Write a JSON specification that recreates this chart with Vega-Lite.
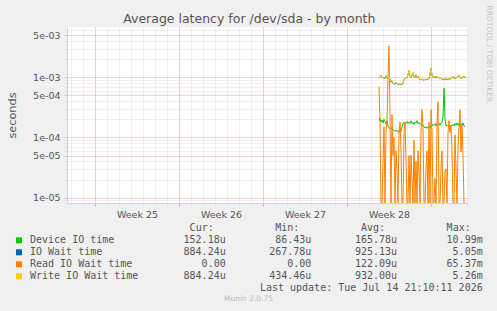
{
  "$schema": "https://vega.github.io/schema/vega-lite/v6.json",
  "width": 401,
  "height": 176,
  "autosize": {"type": "none"},
  "padding": {"left": 67, "top": 27, "right": 29, "bottom": 108},
  "background": "#f0f0f0",
  "title": {"text": "Average latency for /dev/sda - by month", "anchor": "middle", "frame": "bounds", "font": "DejaVu Sans", "fontSize": 12.5, "fontWeight": "normal", "color": "#555555", "baseline": "alphabetic", "offset": -30},
  "config": {
    "view": {"fill": "#ffffff", "stroke": null},
    "font": "DejaVu Sans",
    "axis": {"labelFont": "DejaVu Sans", "titleFont": "DejaVu Sans", "labelColor": "#555555", "titleColor": "#555555", "titleFontWeight": "normal", "labelFontSize": 9.5, "domainColor": "#c8cef5", "labelOverlap": false, "labelFlush": false}
  },
  "resolve": {"scale": {"x": "independent", "y": "independent"}},
  "datasets": {
    "perf": [
      {"time": "2026-07-08T16:00:00Z", "device": 1.9e-4, "iowait": 9.9e-4, "read": 7.0e-4, "write": 1.0e-3},
      {"time": "2026-07-08T18:00:00Z", "device": 2.1e-4, "iowait": 1.04e-3, "read": 2.0e-4, "write": 1.05e-3},
      {"time": "2026-07-08T20:00:00Z", "device": 1.8e-4, "iowait": 1.09e-3, "read": 1e-6, "write": 1.1e-3},
      {"time": "2026-07-08T22:00:00Z", "device": 1.95e-4, "iowait": 9.7e-4, "read": 1e-6, "write": 9.8e-4},
      {"time": "2026-07-09T00:00:00Z", "device": 1.75e-4, "iowait": 1.01e-3, "read": 3.7e-5, "write": 1.02e-3},
      {"time": "2026-07-09T02:00:00Z", "device": 2.0e-4, "iowait": 9.5e-4, "read": 1.5e-4, "write": 9.6e-4},
      {"time": "2026-07-09T04:00:00Z", "device": 1.85e-4, "iowait": 9.6e-4, "read": 1e-6, "write": 1.0e-3},
      {"time": "2026-07-09T06:00:00Z", "device": 1.7e-4, "iowait": 1.07e-3, "read": 1.2e-4, "write": 1.08e-3},
      {"time": "2026-07-09T08:00:00Z", "device": 1.9e-4, "iowait": 9.9e-4, "read": 2.0e-4, "write": 1.0e-3},
      {"time": "2026-07-09T10:00:00Z", "device": 1.55e-4, "iowait": 9.4e-4, "read": 1.0e-3, "write": 9.5e-4},
      {"time": "2026-07-09T12:00:00Z", "device": 1.45e-4, "iowait": 1.01e-3, "read": 3.35e-3, "write": 1.02e-3},
      {"time": "2026-07-09T14:00:00Z", "device": 1.4e-4, "iowait": 9.1e-4, "read": 2.2e-4, "write": 9.2e-4},
      {"time": "2026-07-09T16:00:00Z", "device": 1.45e-4, "iowait": 8.3e-4, "read": 1e-6, "write": 8.6e-4},
      {"time": "2026-07-09T18:00:00Z", "device": 1.4e-4, "iowait": 8.7e-4, "read": 2.4e-4, "write": 8.8e-4},
      {"time": "2026-07-09T20:00:00Z", "device": 1.35e-4, "iowait": 7.9e-4, "read": 5e-5, "write": 8.0e-4},
      {"time": "2026-07-09T22:00:00Z", "device": 1.3e-4, "iowait": 7.6e-4, "read": 1.0e-4, "write": 7.7e-4},
      {"time": "2026-07-10T00:00:00Z", "device": 1.28e-4, "iowait": 7.8e-4, "read": 1e-6, "write": 7.9e-4},
      {"time": "2026-07-10T02:00:00Z", "device": 1.32e-4, "iowait": 8.2e-4, "read": 6e-5, "write": 8.3e-4},
      {"time": "2026-07-10T04:00:00Z", "device": 1.25e-4, "iowait": 7.7e-4, "read": 3e-5, "write": 7.8e-4},
      {"time": "2026-07-10T06:00:00Z", "device": 1.3e-4, "iowait": 7.5e-4, "read": 1e-6, "write": 7.6e-4},
      {"time": "2026-07-10T08:00:00Z", "device": 1.22e-4, "iowait": 7.8e-4, "read": 1.2e-4, "write": 7.9e-4},
      {"time": "2026-07-10T10:00:00Z", "device": 1.3e-4, "iowait": 7.6e-4, "read": 1.8e-4, "write": 7.7e-4},
      {"time": "2026-07-10T12:00:00Z", "device": 1.25e-4, "iowait": 7.7e-4, "read": 6e-5, "write": 7.8e-4},
      {"time": "2026-07-10T14:00:00Z", "device": 1.55e-4, "iowait": 7.5e-4, "read": 1e-6, "write": 7.6e-4},
      {"time": "2026-07-10T16:00:00Z", "device": 1.7e-4, "iowait": 7.9e-4, "read": 1e-6, "write": 8.0e-4},
      {"time": "2026-07-10T18:00:00Z", "device": 1.8e-4, "iowait": 9.1e-4, "read": 1.2e-4, "write": 9.2e-4},
      {"time": "2026-07-10T20:00:00Z", "device": 1.65e-4, "iowait": 9.5e-4, "read": 1.8e-4, "write": 9.6e-4},
      {"time": "2026-07-10T22:00:00Z", "device": 1.75e-4, "iowait": 9.9e-4, "read": 4e-5, "write": 1.0e-3},
      {"time": "2026-07-11T00:00:00Z", "device": 1.85e-4, "iowait": 9.7e-4, "read": 1e-6, "write": 9.8e-4},
      {"time": "2026-07-11T02:00:00Z", "device": 1.7e-4, "iowait": 1.11e-3, "read": 1e-6, "write": 1.12e-3},
      {"time": "2026-07-11T04:00:00Z", "device": 1.8e-4, "iowait": 1.29e-3, "read": 5e-5, "write": 1.3e-3},
      {"time": "2026-07-11T06:00:00Z", "device": 1.72e-4, "iowait": 1.04e-3, "read": 1e-6, "write": 1.05e-3},
      {"time": "2026-07-11T08:00:00Z", "device": 1.9e-4, "iowait": 9.9e-4, "read": 5.1e-5, "write": 1.0e-3},
      {"time": "2026-07-11T10:00:00Z", "device": 1.7e-4, "iowait": 1.07e-3, "read": 2e-5, "write": 1.08e-3},
      {"time": "2026-07-11T12:00:00Z", "device": 1.78e-4, "iowait": 1.19e-3, "read": 1e-6, "write": 1.2e-3},
      {"time": "2026-07-11T14:00:00Z", "device": 1.65e-4, "iowait": 1.01e-3, "read": 9e-5, "write": 1.02e-3},
      {"time": "2026-07-11T16:00:00Z", "device": 1.8e-4, "iowait": 9.8e-4, "read": 1e-6, "write": 9.9e-4},
      {"time": "2026-07-11T18:00:00Z", "device": 1.75e-4, "iowait": 1.11e-3, "read": 4e-5, "write": 1.12e-3},
      {"time": "2026-07-11T20:00:00Z", "device": 1.9e-4, "iowait": 9.9e-4, "read": 1e-6, "write": 1.0e-3},
      {"time": "2026-07-11T22:00:00Z", "device": 1.7e-4, "iowait": 1.04e-3, "read": 6e-5, "write": 1.05e-3},
      {"time": "2026-07-12T00:00:00Z", "device": 1.75e-4, "iowait": 9.5e-4, "read": 2.5e-5, "write": 9.6e-4},
      {"time": "2026-07-12T02:00:00Z", "device": 1.65e-4, "iowait": 9.2e-4, "read": 1e-6, "write": 9.3e-4},
      {"time": "2026-07-12T04:00:00Z", "device": 1.7e-4, "iowait": 9.1e-4, "read": 1.2e-4, "write": 9.2e-4},
      {"time": "2026-07-12T06:00:00Z", "device": 1.58e-4, "iowait": 9.3e-4, "read": 2.9e-4, "write": 9.4e-4},
      {"time": "2026-07-12T08:00:00Z", "device": 1.6e-4, "iowait": 8.9e-4, "read": 1.5e-4, "write": 9.0e-4},
      {"time": "2026-07-12T10:00:00Z", "device": 1.5e-4, "iowait": 9.2e-4, "read": 1e-6, "write": 9.3e-4},
      {"time": "2026-07-12T12:00:00Z", "device": 1.45e-4, "iowait": 9.0e-4, "read": 1e-6, "write": 9.1e-4},
      {"time": "2026-07-12T14:00:00Z", "device": 1.52e-4, "iowait": 9.3e-4, "read": 3e-5, "write": 9.4e-4},
      {"time": "2026-07-12T16:00:00Z", "device": 1.42e-4, "iowait": 9.1e-4, "read": 6e-5, "write": 9.2e-4},
      {"time": "2026-07-12T18:00:00Z", "device": 1.5e-4, "iowait": 9.4e-4, "read": 1e-6, "write": 9.5e-4},
      {"time": "2026-07-12T20:00:00Z", "device": 1.55e-4, "iowait": 9.5e-4, "read": 1.8e-4, "write": 9.6e-4},
      {"time": "2026-07-12T22:00:00Z", "device": 1.45e-4, "iowait": 1.09e-3, "read": 1e-6, "write": 1.1e-3},
      {"time": "2026-07-13T00:00:00Z", "device": 1.6e-4, "iowait": 1.41e-3, "read": 2.9e-4, "write": 1.42e-3},
      {"time": "2026-07-13T02:00:00Z", "device": 1.55e-4, "iowait": 1.09e-3, "read": 1.3e-4, "write": 1.1e-3},
      {"time": "2026-07-13T04:00:00Z", "device": 1.65e-4, "iowait": 9.9e-4, "read": 1e-6, "write": 1.0e-3},
      {"time": "2026-07-13T06:00:00Z", "device": 1.6e-4, "iowait": 1.02e-3, "read": 1e-6, "write": 1.03e-3},
      {"time": "2026-07-13T08:00:00Z", "device": 1.7e-4, "iowait": 9.7e-4, "read": 2.1e-5, "write": 9.8e-4},
      {"time": "2026-07-13T10:00:00Z", "device": 1.55e-4, "iowait": 1.04e-3, "read": 1e-6, "write": 1.05e-3},
      {"time": "2026-07-13T12:00:00Z", "device": 1.65e-4, "iowait": 9.8e-4, "read": 1.6e-4, "write": 9.9e-4},
      {"time": "2026-07-13T14:00:00Z", "device": 1.6e-4, "iowait": 1.01e-3, "read": 3.9e-4, "write": 1.02e-3},
      {"time": "2026-07-13T16:00:00Z", "device": 1.7e-4, "iowait": 9.6e-4, "read": 1e-6, "write": 9.7e-4},
      {"time": "2026-07-13T18:00:00Z", "device": 1.6e-4, "iowait": 9.9e-4, "read": 1e-6, "write": 1.0e-3},
      {"time": "2026-07-13T20:00:00Z", "device": 1.75e-4, "iowait": 9.5e-4, "read": 3.1e-5, "write": 9.6e-4},
      {"time": "2026-07-13T22:00:00Z", "device": 1.8e-4, "iowait": 9.3e-4, "read": 6e-5, "write": 9.4e-4},
      {"time": "2026-07-14T00:00:00Z", "device": 2.2e-4, "iowait": 9.1e-4, "read": 1e-6, "write": 9.2e-4},
      {"time": "2026-07-14T02:00:00Z", "device": 6.6e-4, "iowait": 9.3e-4, "read": 1e-6, "write": 9.4e-4},
      {"time": "2026-07-14T04:00:00Z", "device": 2.0e-4, "iowait": 9.2e-4, "read": 2.7e-5, "write": 9.3e-4},
      {"time": "2026-07-14T06:00:00Z", "device": 1.55e-4, "iowait": 9.4e-4, "read": 3e-5, "write": 9.5e-4},
      {"time": "2026-07-14T08:00:00Z", "device": 1.6e-4, "iowait": 9.1e-4, "read": 1e-6, "write": 9.2e-4},
      {"time": "2026-07-14T10:00:00Z", "device": 1.52e-4, "iowait": 9.5e-4, "read": 1.2e-4, "write": 9.6e-4},
      {"time": "2026-07-14T12:00:00Z", "device": 1.55e-4, "iowait": 9.3e-4, "read": 1.9e-4, "write": 9.4e-4},
      {"time": "2026-07-14T14:00:00Z", "device": 1.5e-4, "iowait": 9.2e-4, "read": 1.2e-4, "write": 9.3e-4},
      {"time": "2026-07-14T16:00:00Z", "device": 1.6e-4, "iowait": 9.6e-4, "read": 1.6e-4, "write": 9.7e-4},
      {"time": "2026-07-14T18:00:00Z", "device": 1.55e-4, "iowait": 1.01e-3, "read": 6e-5, "write": 1.02e-3},
      {"time": "2026-07-14T20:00:00Z", "device": 1.65e-4, "iowait": 1.04e-3, "read": 1e-6, "write": 1.05e-3},
      {"time": "2026-07-14T22:00:00Z", "device": 1.55e-4, "iowait": 9.7e-4, "read": 1e-6, "write": 9.8e-4},
      {"time": "2026-07-15T00:00:00Z", "device": 1.7e-4, "iowait": 9.5e-4, "read": 1.1e-4, "write": 9.6e-4},
      {"time": "2026-07-15T02:00:00Z", "device": 1.6e-4, "iowait": 9.8e-4, "read": 3e-5, "write": 9.9e-4},
      {"time": "2026-07-15T04:00:00Z", "device": 1.75e-4, "iowait": 9.9e-4, "read": 1e-6, "write": 1.0e-3},
      {"time": "2026-07-15T06:00:00Z", "device": 1.6e-4, "iowait": 1.03e-3, "read": 6.6e-5, "write": 1.04e-3},
      {"time": "2026-07-15T08:00:00Z", "device": 1.7e-4, "iowait": 1.09e-3, "read": 1.5e-4, "write": 1.1e-3},
      {"time": "2026-07-15T10:00:00Z", "device": 1.55e-4, "iowait": 9.9e-4, "read": 2.9e-4, "write": 1.0e-3},
      {"time": "2026-07-15T12:00:00Z", "device": 1.7e-4, "iowait": 9.6e-4, "read": 5.8e-5, "write": 9.7e-4},
      {"time": "2026-07-15T14:00:00Z", "device": 1.6e-4, "iowait": 9.8e-4, "read": 1.6e-4, "write": 9.9e-4},
      {"time": "2026-07-15T16:00:00Z", "device": 1.75e-4, "iowait": 1.01e-3, "read": 5e-5, "write": 1.02e-3},
      {"time": "2026-07-15T18:00:00Z", "device": 1.55e-4, "iowait": 1.05e-3, "read": 1e-6, "write": 1.06e-3},
      {"time": "2026-07-15T20:00:00Z", "device": 1.52e-4, "iowait": 9.7e-4, "read": 1e-6, "write": 9.8e-4}
    ],
    "stats": [
      {"row": "Device IO time", "col": "Cur", "text": "152.18u"},
      {"row": "Device IO time", "col": "Min", "text": "86.43u"},
      {"row": "Device IO time", "col": "Avg", "text": "165.78u"},
      {"row": "Device IO time", "col": "Max", "text": "10.99m"},
      {"row": "IO Wait time", "col": "Cur", "text": "884.24u"},
      {"row": "IO Wait time", "col": "Min", "text": "267.78u"},
      {"row": "IO Wait time", "col": "Avg", "text": "925.13u"},
      {"row": "IO Wait time", "col": "Max", "text": "5.05m"},
      {"row": "Read IO Wait time", "col": "Cur", "text": "0.00\u00a0"},
      {"row": "Read IO Wait time", "col": "Min", "text": "0.00\u00a0"},
      {"row": "Read IO Wait time", "col": "Avg", "text": "122.09u"},
      {"row": "Read IO Wait time", "col": "Max", "text": "65.37m"},
      {"row": "Write IO Wait time", "col": "Cur", "text": "884.24u"},
      {"row": "Write IO Wait time", "col": "Min", "text": "434.46u"},
      {"row": "Write IO Wait time", "col": "Avg", "text": "932.00u"},
      {"row": "Write IO Wait time", "col": "Max", "text": "5.26m"},
      {"row": "update", "col": "Max", "text": "Last update: Tue Jul 14 21:10:11 2026"}
    ],
    "headers": [
      {"row": "header", "col": "Cur", "text": "Cur:"},
      {"row": "header", "col": "Min", "text": "Min:"},
      {"row": "header", "col": "Avg", "text": "Avg:"},
      {"row": "header", "col": "Max", "text": "Max:"}
    ]
  },
  "layer": [
    {
      "data": {"name": "perf"},
      "mark": {"type": "line", "strokeWidth": 1, "clip": true},
      "encoding": {
        "x": {"field": "time", "type": "temporal",
          "scale": {"type": "utc", "nice": false, "domain": [{"year": 2026, "month": 6, "date": 12, "hours": 16, "utc": true}, {"year": 2026, "month": 7, "date": 16, "hours": 2, "utc": true}]},
          "axis": {"orient": "bottom", "tickCount": {"interval": "day", "step": 1}, "grid": true, "gridColor": "#dedede", "gridDash": [1, 1], "ticks": true, "tickSize": 2, "tickColor": "#dedede", "labels": false, "domain": false, "title": null}},
        "y": {"field": "device", "type": "quantitative",
          "scale": {"type": "log", "domain": [8.17e-6, 6.84e-3], "nice": false, "zero": false, "clamp": true},
          "axis": {"orient": "left", "values": [9e-6, 2e-5, 3e-5, 4e-5, 6e-5, 7e-5, 8e-5, 9e-5, 2e-4, 3e-4, 4e-4, 6e-4, 7e-4, 8e-4, 9e-4, 2e-3, 3e-3, 4e-3, 6e-3], "grid": true, "gridColor": "#dedede", "gridDash": [1, 1], "ticks": true, "tickSize": 3, "tickColor": "#dedede", "tickDash": [1, 1], "labels": false, "domain": false, "title": null}},
        "color": {"datum": "Device IO time", "type": "nominal",
          "scale": {"domain": ["Device IO time", "IO Wait time", "Read IO Wait time", "Write IO Wait time"], "range": ["#00cc00", "#0066b3", "#ff8000", "#ffcc00"]},
          "legend": {"orient": "none", "legendX": -53, "legendY": 208.3, "direction": "vertical", "title": null, "symbolType": "square", "symbolSize": 36, "symbolStrokeWidth": 0, "labelFont": "DejaVu Sans Mono", "labelFontSize": 10, "labelColor": "#555555", "labelOffset": 6, "rowPadding": 2, "padding": 0,
            "encode": {"symbols": {"update": {"fill": {"scale": "color", "field": "value"}, "stroke": {"value": "transparent"}, "strokeWidth": {"value": 0}, "opacity": {"value": 1}}}}}}
      }
    },
    {
      "data": {"name": "perf"},
      "mark": {"type": "line", "strokeWidth": 1, "clip": true},
      "encoding": {
        "x": {"field": "time", "type": "temporal",
          "scale": {"type": "utc", "nice": false, "domain": [{"year": 2026, "month": 6, "date": 12, "hours": 16, "utc": true}, {"year": 2026, "month": 7, "date": 16, "hours": 2, "utc": true}]},
          "axis": {"orient": "bottom", "values": [{"year": 2026, "month": 6, "date": 15, "utc": true}, {"year": 2026, "month": 6, "date": 22, "utc": true}, {"year": 2026, "month": 6, "date": 29, "utc": true}, {"year": 2026, "month": 7, "date": 6, "utc": true}, {"year": 2026, "month": 7, "date": 13, "utc": true}], "grid": true, "gridColor": "#e6a8a8", "gridDash": [1, 1], "ticks": true, "tickSize": 3, "tickColor": "#e6a8a8", "labels": false, "domain": true, "domainColor": "#c8cef5", "title": null}},
        "y": {"field": "iowait", "type": "quantitative",
          "scale": {"type": "log", "domain": [8.17e-6, 6.84e-3], "nice": false, "zero": false, "clamp": true},
          "axis": {"orient": "left", "values": [1e-5, 5e-5, 1e-4, 5e-4, 1e-3, 5e-3], "labelExpr": "replace(format(datum.value, '.0e'), 'e-', 'e-0')", "grid": true, "gridColor": "#e6a8a8", "gridDash": [1, 1], "ticks": true, "tickSize": 3, "tickColor": "#e6a8a8", "tickDash": [1, 1], "labelPadding": 4, "labelFontSize": 9.5, "domain": true, "domainColor": "#c8cef5", "title": "seconds", "titleFontSize": 11.3, "titlePadding": 15}},
        "color": {"datum": "IO Wait time", "type": "nominal",
          "scale": {"domain": ["Device IO time", "IO Wait time", "Read IO Wait time", "Write IO Wait time"], "range": ["#00cc00", "#0066b3", "#ff8000", "#ffcc00"]}}
      }
    },
    {
      "data": {"name": "perf"},
      "mark": {"type": "line", "strokeWidth": 1, "clip": true},
      "encoding": {
        "x": {"field": "time", "type": "temporal",
          "scale": {"type": "utc", "nice": false, "domain": [{"year": 2026, "month": 6, "date": 12, "hours": 16, "utc": true}, {"year": 2026, "month": 7, "date": 16, "hours": 2, "utc": true}]},
          "axis": {"orient": "bottom", "values": [{"year": 2026, "month": 6, "date": 18, "hours": 12, "utc": true}, {"year": 2026, "month": 6, "date": 25, "hours": 12, "utc": true}, {"year": 2026, "month": 7, "date": 2, "hours": 12, "utc": true}, {"year": 2026, "month": 7, "date": 9, "hours": 12, "utc": true}], "labelExpr": "'Week ' + utcFormat(datum.value, '%V')", "grid": false, "ticks": false, "domain": false, "labelPadding": 6, "labelFontSize": 9.5,
            "title": "Munin 2.0.75", "titleX": 181, "titlePadding": 76, "titleFontSize": 7.5, "titleColor": "#bbbbbb", "titleFontWeight": "normal"}},
        "y": {"field": "read", "type": "quantitative",
          "scale": {"type": "log", "domain": [8.17e-6, 6.84e-3], "nice": false, "zero": false, "clamp": true},
          "axis": null},
        "color": {"datum": "Read IO Wait time", "type": "nominal",
          "scale": {"domain": ["Device IO time", "IO Wait time", "Read IO Wait time", "Write IO Wait time"], "range": ["#00cc00", "#0066b3", "#ff8000", "#ffcc00"]}}
      }
    },
    {
      "data": {"name": "perf"},
      "mark": {"type": "line", "strokeWidth": 1, "clip": true},
      "encoding": {
        "x": {"field": "time", "type": "temporal",
          "scale": {"type": "utc", "nice": false, "domain": [{"year": 2026, "month": 6, "date": 12, "hours": 16, "utc": true}, {"year": 2026, "month": 7, "date": 16, "hours": 2, "utc": true}]},
          "axis": null},
        "y": {"field": "write", "type": "quantitative",
          "scale": {"type": "log", "domain": [8.17e-6, 6.84e-3], "nice": false, "zero": false, "clamp": true},
          "axis": {"orient": "right", "labels": false, "ticks": false, "domain": false, "grid": false, "title": "RRDTOOL / TOBI OETIKER", "titleFontSize": 7.5, "titleColor": "#c4c4c4", "titleAngle": 90, "titleAlign": "left", "titleBaseline": "middle", "titleX": 20, "titleY": -22}},
        "color": {"datum": "Write IO Wait time", "type": "nominal",
          "scale": {"domain": ["Device IO time", "IO Wait time", "Read IO Wait time", "Write IO Wait time"], "range": ["#00cc00", "#0066b3", "#ff8000", "#ffcc00"]}}
      }
    },
    {
      "data": {"name": "stats"},
      "mark": {"type": "text", "align": "right", "baseline": "middle", "font": "DejaVu Sans Mono", "fontSize": 10, "color": "#555555"},
      "encoding": {
        "x": {"field": "col", "type": "nominal", "scale": {"type": "point", "domain": ["Cur", "Min", "Avg", "Max"], "range": [158.7, 415.7], "padding": 0}, "axis": null},
        "y": {"field": "row", "type": "nominal", "scale": {"type": "point", "domain": ["header", "Device IO time", "IO Wait time", "Read IO Wait time", "Write IO Wait time", "update"], "range": [201, 261], "padding": 0}, "axis": null},
        "text": {"field": "text", "type": "nominal"}
      }
    },
    {
      "data": {"name": "headers"},
      "mark": {"type": "text", "align": "right", "baseline": "middle", "font": "DejaVu Sans Mono", "fontSize": 10, "color": "#555555"},
      "encoding": {
        "x": {"field": "col", "type": "nominal", "scale": {"type": "point", "domain": ["Cur", "Min", "Avg", "Max"], "range": [146.7, 403.7], "padding": 0}, "axis": null},
        "y": {"field": "row", "type": "nominal", "scale": {"type": "point", "domain": ["header", "Device IO time", "IO Wait time", "Read IO Wait time", "Write IO Wait time", "update"], "range": [201, 261], "padding": 0}, "axis": null},
        "text": {"field": "text", "type": "nominal"}
      }
    }
  ]
}
